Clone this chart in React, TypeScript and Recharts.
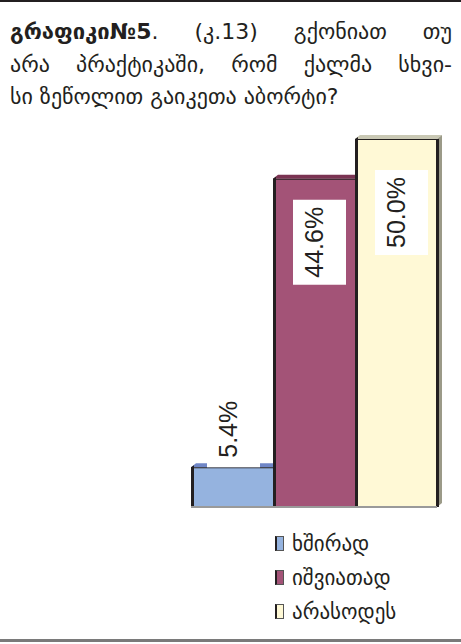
import React from "react";
import { BarChart, Bar, XAxis, YAxis, ReferenceLine } from "recharts";

const categories = ["ხშირად", "იშვიათად", "არასოდეს"];
const values = [5.4, 44.6, 50.0];
const valueLabels = ["5.4%", "44.6%", "50.0%"];
const titleBold = "გრაფიკი№5";
const titleLine1 = [".", "(კ.13)", "გქონიათ", "თუ"];
const titleLine2 = ["არა", "პრაქტიკაში,", "რომ", "ქალმა", "სხვი-"];
const titleLine3 = "სი ზეწოლით გაიკეთა აბორტი?";

const colors = ["#95b3df", "#a35377", "#fff9d6"];
const topColors = ["#6f86c6", "#7a3352", "#c9c8b4"];
const DARK = "#231f20";

const data = categories.map((c, i) => ({ name: c, value: values[i] }));

function Bar3D(props: any) {
  const { x, y, width, height } = props;
  let index = props.index;
  if (index === undefined || index === null) index = categories.indexOf(props.payload?.name);
  const fill = colors[index];
  const top = topColors[index];
  const d = 5;
  const isLast = index === categories.length - 1;
  return (
    <g>
      <polygon
        points={`${x},${y} ${x + d},${y - 4} ${x + width + d},${y - 4} ${x + width},${y}`}
        fill={top}
      />
      <rect x={x} y={y} width={width} height={height} fill={fill} />
      <line x1={x} y1={y + 0.5} x2={x + width} y2={y + 0.5} stroke={DARK} strokeWidth={1} />
      <polygon points={`${x},${y} ${x + 3},${y - 2} ${x + 3},${y + height} ${x},${y + height}`} fill={DARK} />
      {isLast && (
        <g>
          <polygon
            points={`${x + width},${y} ${x + width + d},${y - 4} ${x + width + d},${y + height - 4} ${x + width},${y + height}`}
            fill="#9b9a88"
          />
          <rect x={x + width - 1} y={y} width={3} height={height} fill={DARK} />
        </g>
      )}
    </g>
  );
}

function renderLabel(props: any) {
  const { x, y, index } = props;
  const boxW = 53;
  let bx: number, by: number, bh: number;
  if (index === 0) {
    bx = x + 16;
    by = y - 82;
    bh = 82;
  } else {
    bx = x + 20;
    by = y + (index === 1 ? 21 : 31);
    bh = 85;
  }
  const cy = by + bh / 2 + (index === 0 ? 3 : 0);
  const tx = bx + 30;
  return (
    <g>
      <rect x={bx} y={by} width={boxW} height={bh} fill="#ffffff" />
      <text
        x={tx}
        y={cy}
        transform={`rotate(-90 ${tx} ${cy})`}
        textAnchor="middle"
        fontFamily="'Liberation Sans', Arial, sans-serif"
        fontSize={25}
        fill={DARK}
      >
        {valueLabels[index]}
      </text>
    </g>
  );
}

export default function App() {
  const georgian = "'DejaVu Sans', 'Noto Sans', sans-serif";
  const lineStyle: React.CSSProperties = {
    display: "flex",
    justifyContent: "space-between",
    whiteSpace: "nowrap",
  };
  return (
    <div
      style={{
        position: "absolute",
        left: 0,
        top: 0,
        width: 461,
        height: 644,
        background: "#ffffff",
        overflow: "hidden",
      }}
    >
      <div style={{ position: "absolute", left: 0, top: 0, width: 461, height: 2, background: DARK }} />
      <div
        style={{
          position: "absolute",
          left: 10,
          top: 16,
          width: 442,
          fontFamily: georgian,
          fontSize: 22,
          lineHeight: "32.5px",
          color: DARK,
        }}
      >
        <div style={lineStyle}>
          <span>
            <span style={{ fontWeight: "bold" }}>{titleBold}</span>
            {titleLine1[0]}
          </span>
          {titleLine1.slice(1).map((w) => (
            <span key={w}>{w}</span>
          ))}
        </div>
        <div style={lineStyle}>
          {titleLine2.map((w) => (
            <span key={w}>{w}</span>
          ))}
        </div>
        <div style={{ whiteSpace: "nowrap" }}>{titleLine3}</div>
      </div>

      <div style={{ position: "absolute", left: 0, top: 0 }}>
        <BarChart
          width={461}
          height={644}
          data={data}
          margin={{ top: 139, right: 24, bottom: 137, left: 191 }}
          barCategoryGap={0}
        >
          <XAxis dataKey="name" hide />
          <YAxis hide domain={[0, 50]} width={0} />
          <Bar
            dataKey="value"
            isAnimationActive={false}
            shape={(p: any) => <Bar3D {...p} />}
            label={renderLabel}
          />
          <ReferenceLine y={0} stroke="#9a9a9a" strokeWidth={2} />
        </BarChart>
      </div>

      <div style={{ position: "absolute", left: 275, top: 527 }}>
        {categories.map((c, i) => (
          <div key={c} style={{ position: "relative", height: 34, display: "flex", alignItems: "center" }}>
            <div
              style={{
                width: 6,
                height: 13,
                background: colors[i],
                borderLeft: `2px solid ${DARK}`,
                borderTop: "1px solid #555",
                borderBottom: "1px solid #555",
                borderRight: "1px solid #555",
                marginRight: 8,
                marginTop: -2,
              }}
            />
            <span style={{ fontFamily: georgian, fontSize: 21, color: DARK, whiteSpace: "nowrap" }}>{c}</span>
          </div>
        ))}
      </div>

      <div style={{ position: "absolute", left: 0, top: 639, width: 461, height: 3, background: "#7a7a7a" }} />
    </div>
  );
}
